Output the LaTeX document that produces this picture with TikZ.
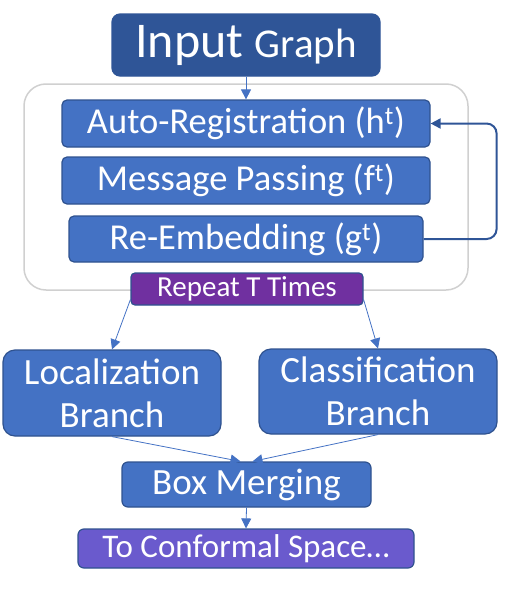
\documentclass[tikz,border=0pt]{standalone}
\usepackage{fontspec}
\setmainfont{Carlito}
\usetikzlibrary{arrows.meta,calc}
\definecolor{dblue}{HTML}{2F5597}
\definecolor{mblue}{HTML}{4472C4}
\definecolor{bord}{HTML}{2F528F}
\definecolor{purp}{HTML}{7030A0}
\definecolor{lilac}{HTML}{6A5ACD}
\definecolor{lgray}{HTML}{D0D0D0}
\tikzset{
  box/.style={draw=bord, line width=1.2pt, text=white, inner sep=0pt, align=center},
  bluebox/.style={box, fill=mblue, rounded corners=5pt, font=\fontsize{36.5}{38}\selectfont},
  bigbox/.style={box, fill=mblue, rounded corners=12pt, font=\fontsize{37}{43}\selectfont},
  conn/.style={draw=mblue, line width=0.8pt, -{Triangle[length=10pt,width=10pt]}},
  fb/.style={draw=dblue, line width=2pt, rounded corners=10pt, -{Triangle[length=10pt,width=10pt]}},
}
\begin{document}
\begin{tikzpicture}[x=1pt,y=-1pt]
\useasboundingbox (0,0) rectangle (509,589);
\node[box, fill=dblue, draw=dblue, rounded corners=8pt, minimum width=268, minimum height=62] (ig) at (246,45)
  {\fontsize{50}{52}\selectfont Input \fontsize{41}{52}\selectfont Graph};
\node[draw=lgray, line width=1.5pt, rounded corners=22pt, minimum width=444, minimum height=206, inner sep=0pt] (cont) at (246,187) {};
\node[bluebox, minimum width=368, minimum height=47] (ar) at (246,123.5) {Auto-Registration (h\textsuperscript{t})};
\node[bluebox, minimum width=368, minimum height=47] (mp) at (246,180.5) {Message Passing (f\textsuperscript{t})};
\node[bluebox, minimum width=354, minimum height=46] (re) at (246,239) {Re-Embedding (g\textsuperscript{t})};
\node[box, fill=purp, rounded corners=4pt, minimum width=232, minimum height=32, font=\fontsize{29}{30}\selectfont] (rep) at (247,289) {Repeat T Times};
\node[bigbox, minimum width=218, minimum height=86] (loc) at (112,393) {Localization\\Branch};
\node[bigbox, minimum width=238, minimum height=85] (cls) at (378,391.5) {Classification\\Branch};
\node[box, fill=mblue, rounded corners=6pt, minimum width=249, minimum height=45, font=\fontsize{37}{38}\selectfont] (bm) at (246.5,484.5) {Box Merging};
\node[box, fill=lilac, rounded corners=6pt, minimum width=336, minimum height=39, font=\fontsize{33}{34}\selectfont] (cs) at (246,548.5) {To Conformal Space\dots};
\draw[conn] (ig.south) -- (ar.north);
\draw[fb] (re.east) -| ($(ar.east)+(66,0)$) -- (ar.east);
\draw[conn] ($(rep.south west)+(0,-6)$) -- (loc.north);
\draw[conn] ($(rep.south east)+(0,-6)$) -- (cls.north);
\draw[conn] (loc.south) -- ($(bm.north)+(-6,0)$);
\draw[conn] (cls.south) -- ($(bm.north)+(6,0)$);
\draw[conn] (bm.south) -- (cs.north);
\end{tikzpicture}
\end{document}
